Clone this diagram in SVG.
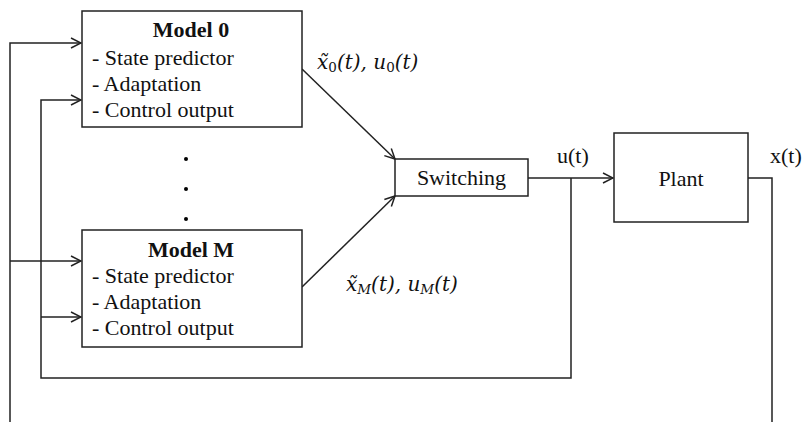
<svg xmlns="http://www.w3.org/2000/svg" width="802" height="422" viewBox="0 0 802 422">
  <style>
    .box { fill: #fff; stroke: #222; stroke-width: 1.5; }
    .wire { fill: none; stroke: #222; stroke-width: 1.5; }
    .t { font-family: "Liberation Serif", "Times New Roman", serif; font-size: 22px; fill: #111; }
    .b { font-weight: bold; }
    .m { font-family: "DejaVu Serif", "Liberation Serif", serif; font-size: 20px; font-style: italic; fill: #111; }
    .sub { font-size: 13.5px; }
    .up { font-style: normal; }
  </style>
  <defs>
    <marker id="arrow" viewBox="0 0 12 12" refX="11" refY="6" markerWidth="12" markerHeight="12" markerUnits="userSpaceOnUse" orient="auto">
      <polyline points="1,1 11,6 1,11" fill="none" stroke="#222" stroke-width="1.5"/>
    </marker>
  </defs>
  <rect width="802" height="422" fill="#fff"/>

  <g id="connectors">
    <!-- outer feedback x(t) -->
    <polyline class="wire" points="748,178 772,178 772,422"/>
    <polyline class="wire" points="10,422 10,43 81,43" marker-end="url(#arrow)"/>
    <polyline class="wire" points="10,261 81,261" marker-end="url(#arrow)"/>
    <!-- inner feedback u(t) -->
    <polyline class="wire" points="571,178 571,378 41,378 41,100 81,100" marker-end="url(#arrow)"/>
    <polyline class="wire" points="41,317 81,317" marker-end="url(#arrow)"/>
    <!-- model outputs to switching -->
    <line class="wire" x1="302" y1="69" x2="395" y2="159" marker-end="url(#arrow)"/>
    <line class="wire" x1="302" y1="287" x2="395" y2="196" marker-end="url(#arrow)"/>
    <!-- switching to plant -->
    <line class="wire" x1="528" y1="178" x2="613" y2="178" marker-end="url(#arrow)"/>
  </g>

  <g id="model0">
    <rect class="box" x="82" y="11" width="220" height="116"/>
    <text class="t b" x="191" y="37" text-anchor="middle">Model 0</text>
    <text class="t" x="92" y="65">- State predictor</text>
    <text class="t" x="92" y="91">- Adaptation</text>
    <text class="t" x="92" y="117">- Control output</text>
  </g>

  <g id="ellipsis">
    <circle cx="186" cy="159" r="2"/>
    <circle cx="186" cy="189" r="2"/>
    <circle cx="186" cy="219" r="2"/>
  </g>

  <g id="modelM">
    <rect class="box" x="82" y="230" width="220" height="117"/>
    <text class="t b" x="191" y="257" text-anchor="middle">Model M</text>
    <text class="t" x="92" y="283">- State predictor</text>
    <text class="t" x="92" y="309">- Adaptation</text>
    <text class="t" x="92" y="335">- Control output</text>
  </g>

  <g id="switching">
    <rect class="box" x="395" y="159" width="133" height="37"/>
    <text class="t" x="461.5" y="185" text-anchor="middle">Switching</text>
  </g>

  <g id="plant">
    <rect class="box" x="614" y="133" width="134" height="89"/>
    <text class="t" x="681" y="186" text-anchor="middle">Plant</text>
  </g>

  <g id="labels">
    <text class="m" x="317" y="69">x̃<tspan class="sub up" dy="3">0</tspan><tspan dy="-3">(t), u</tspan><tspan class="sub up" dy="3">0</tspan><tspan dy="-3">(t)</tspan></text>
    <text class="m" x="346" y="291">x̃<tspan class="sub" dy="3">M</tspan><tspan dy="-3">(t), u</tspan><tspan class="sub" dy="3">M</tspan><tspan dy="-3">(t)</tspan></text>
    <text class="t" x="557" y="163">u(t)</text>
    <text class="t" x="770" y="163">x(t)</text>
  </g>
</svg>
